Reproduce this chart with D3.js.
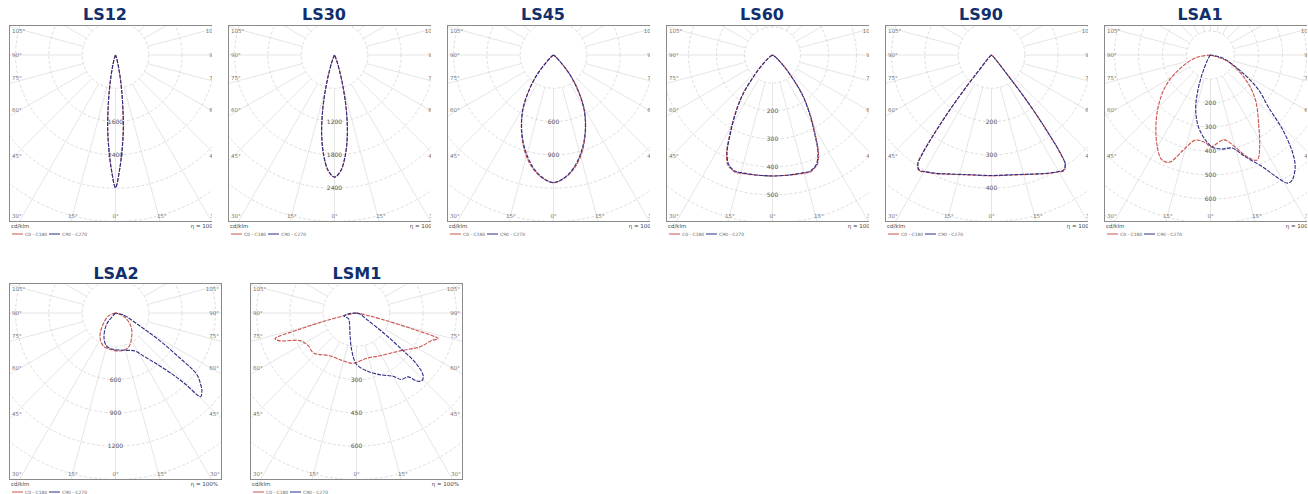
<!DOCTYPE html>
<html><head><meta charset="utf-8">
<script src="https://cdn.jsdelivr.net/npm/d3@7"></script>
<style>body{margin:0;background:#fff;} svg{display:block}</style>
</head><body>
<svg id="c" width="1308" height="494"></svg>
<script>
// ---------------- DATA ----------------
const titles = ["LS12","LS30","LS45","LS60","LS90","LSA1","LSA2","LSM1"];
const sideAngleLabels = ["105°","90°","75°","60°","45°"];
const sideAngles = [105,90,75,60,45];
const bottomAngleLabels = ["30°","15°","0°","15°","30°"];
const bottomAngles = [-30,-15,0,15,30];
const ringStep = [800,600,300,100,100,100,300,150];          // cd/klm per ring
const ringLabelRings = [[2,3],[2,3,4],[2,3],[2,3,4,5],[2,3,4],[2,3,4,5,6],[2,3,4],[2,3,4]];
const unitLabel = "cd/klm";
const etaLabel = "η = 100%";
const legendLabels = ["C0 - C180","C90 - C270"];

// gamma angles (deg, 0 = nadir, + = right) and intensities (cd/klm)
const ls12_gamma = [-30,-20,-15,-12,-10,-8,-6,-4,-2,0,2,4,6,8,10,12,15,20,30];
const ls12_c0  = [0,70,240,530,840,1250,1780,2260,2760,3190,2760,2260,1780,1250,840,530,240,70,0];
const ls12_c90 = [0,60,230,520,850,1270,1800,2280,2770,3190,2770,2280,1800,1270,850,520,230,60,0];

const ls30_gamma = [-40,-30,-25,-21,-18,-15,-12,-9,-6,-3,0,3,6,9,12,15,18,21,25,30,40];
const ls30_c0  = [0,0,35,125,290,600,1040,1480,1840,2100,2200,2100,1840,1480,1040,600,290,125,35,0,0];
const ls30_c90 = [0,0,30,120,280,590,1030,1470,1830,2090,2200,2090,1830,1470,1030,590,280,120,30,0,0];

const ls45_gamma = [-65,-60,-55,-50,-45,-40,-35,-30,-25,-20,-15,-10,-5,0,5,10,15,20,25,30,35,40,45,50,55,60,65];
const ls45_c0  = [0,0,15,35,90,235,385,550,685,820,945,1045,1115,1150,1115,1045,945,820,685,550,385,235,90,35,15,0,0];
const ls45_c90 = [0,0,12,30,85,225,375,540,680,810,930,1035,1110,1150,1110,1035,930,810,680,540,375,225,85,30,12,0,0];

const ls60_gamma = [-70,-60,-50,-45,-42,-37,-32,-28,-25,-22,-20,-18,-15,-10,-5,0,5,10,15,18,20,22,25,28,32,37,42,45,50,60,70];
const ls60_c0  = [0,7,29,64,96,179,257,328,389,425,432,439,437,434,432,432,432,434,437,439,432,425,389,328,257,179,96,64,29,7,0];
const ls60_c90 = [0,6,27,60,92,175,252,322,384,420,430,436,435,433,432,432,432,433,435,436,430,420,384,322,252,175,92,60,27,6,0];

const ls90_gamma = [-60,-50,-42,-39,-38,-37,-36,-35,-34,-32,-30,-25,-20,-15,-10,0,10,15,20,25,30,32,34,35,36,37,38,39,42,50,60];
const ls90_c0  = [0,6,24,75,150,225,297,366,398,410,405,393,381,372,366,363,366,372,381,393,405,410,398,366,297,225,150,75,24,6,0];
const ls90_c90 = [0,5,22,72,146,220,292,360,395,408,404,392,380,371,365,362,365,371,380,392,404,408,395,360,292,220,146,72,22,5,0];

const lsa1_gamma_c0 = [-90,-79,-65,-55,-45,-37,-30,-25,-21,-16,-10,-3,0,9,15,20,24,28,34,45,55,69,90];
const lsa1_c0       = [0,64,147,230,309,378,443,481,479,413,360,367,383,358,397,453,479,436,360,265,179,80,0];
const lsa1_gamma_c90 = [-60,-40,-24,-19,-15,-9.5,-3.4,1,7,13,19,25,28,31,33,37,40,44,48,54,61,76,90];
const lsa1_c90       = [0,8,82,168,238,304,355,383,395,398,449,515,569,623,623,586,533,433,325,248,153,52,0];

const lsa2_gamma_c0 = [-90,-67,-43,-32,-20,-9,7,20,33,50,69,90];
const lsa2_c0       = [0,70,182,263,317,330,345,333,266,180,76,0];
const lsa2_gamma_c90 = [-60,-38,-25,-15,-3.5,12,27,33,39,43,44.5,45.5,48,50,53,55,58,62,76,90];
const lsa2_c90       = [0,129,245,308,328,343,384,461,592,759,900,1076,1047,1002,915,707,473,249,72,0];

const lsm1_gamma_c0 = [-90,-80,-76,-74,-72.5,-70,-64,-56,-47,-32,-15,-4,13,29,49,62,70,72.5,74,76,80,90];
const lsm1_c0       = [0,22,135,270,385,367,284,263,264,227,224,227,209,220,260,324,361,386,270,120,22,0];
const lsm1_gamma_c90 = [-90,-85,-76,-57,-35,-17,-7,0,10,21,30,34,39,41.5,44,46.7,49.6,51.4,53.7,58,74,90];
const lsm1_c90       = [0,37,58,44,55,100,172,231,265,298,329,361,370,409,424,413,356,250,150,54,16,0];

const curves = [
  [[ls12_gamma, ls12_c0],[ls12_gamma, ls12_c90]],
  [[ls30_gamma, ls30_c0],[ls30_gamma, ls30_c90]],
  [[ls45_gamma, ls45_c0],[ls45_gamma, ls45_c90]],
  [[ls60_gamma, ls60_c0],[ls60_gamma, ls60_c90]],
  [[ls90_gamma, ls90_c0],[ls90_gamma, ls90_c90]],
  [[lsa1_gamma_c0, lsa1_c0],[lsa1_gamma_c90, lsa1_c90]],
  [[lsa2_gamma_c0, lsa2_c0],[lsa2_gamma_c90, lsa2_c90]],
  [[lsm1_gamma_c0, lsm1_c0],[lsm1_gamma_c90, lsm1_c90]]
];

// ---------------- LAYOUT / STYLE ----------------
const ringPx = [33.3,33.3,33.3,28,33.3,24,33.3,33.3];
const boxW = 213, boxH = 196, poleOff = 30;
const colC0 = "#c9524c", colC90 = "#2c2c86", titleCol = "#102f6c";
const smallFont = "DejaVu Sans";

const svg = d3.select("#c");
const defs = svg.append("defs");

titles.forEach((t, i) => {
  const row = i < 6 ? 0 : 1;
  const bx = row === 0 ? 9 + 219 * i : 9 + 241 * (i - 6);
  const by = row === 0 ? 25 : 283;
  const visW = row === 0 ? 203 : 214;
  const cx = bx + boxW / 2, cy = by + poleOff;
  const step = ringPx[i];

  defs.append("clipPath").attr("id", "pc" + i)
    .append("rect").attr("x", bx - 1).attr("y", by - 1).attr("width", visW + 1).attr("height", boxH + 40);
  defs.append("clipPath").attr("id", "bc" + i)
    .append("rect").attr("x", bx).attr("y", by).attr("width", boxW).attr("height", boxH);

  // title
  svg.append("text").attr("x", row === 0 ? bx + 96 : bx + 107).attr("y", row === 0 ? 20 : 279)
    .attr("text-anchor", "middle").attr("font-family", "DejaVu Sans").attr("font-weight", "bold")
    .attr("font-size", 16).attr("fill", titleCol).text(t);

  const panel = svg.append("g").attr("clip-path", `url(#pc${i})`);
  const inner = panel.append("g").attr("clip-path", `url(#bc${i})`);

  const nRings = 9;
  const r = d3.scaleLinear().domain([0, ringStep[i]]).range([0, step]);

  const angs = d3.range(0, 360, 15);
  inner.selectAll("line.rad").data(angs).join("line")
    .attr("x1", a => cx + step * Math.sin(a * Math.PI / 180))
    .attr("y1", a => cy + step * Math.cos(a * Math.PI / 180))
    .attr("x2", a => cx + 400 * Math.sin(a * Math.PI / 180))
    .attr("y2", a => cy + 400 * Math.cos(a * Math.PI / 180))
    .attr("stroke", "#dedede").attr("stroke-width", 0.8);
  inner.selectAll("circle.ring").data(d3.range(1, nRings + 1)).join("circle")
    .attr("cx", cx).attr("cy", cy).attr("r", k => r(k * ringStep[i]))
    .attr("fill", "none").attr("stroke", "#d4d4d4").attr("stroke-width", 0.8)
    .attr("stroke-dasharray", "3,2");

  const line = d3.lineRadial()
    .angle(d => Math.PI - d[0] * Math.PI / 180)
    .radius(d => r(d[1]))
    .curve(d3.curveCatmullRom.alpha(0.5));
  const g = inner.append("g").attr("transform", `translate(${cx},${cy})`);
  curves[i].forEach((c, j) => {
    const pts = c[0].map((a, k) => [a, c[1][k]]);
    g.append("path").attr("d", line(pts)).attr("fill", "none")
      .attr("stroke", j === 0 ? colC0 : colC90).attr("stroke-width", 1.1)
      .attr("stroke-dasharray", "4,1.2");
  });

  ringLabelRings[i].forEach(k => {
    inner.append("text").attr("x", cx).attr("y", cy + r(k * ringStep[i]) + 2)
      .attr("text-anchor", "middle").attr("font-family", smallFont).attr("font-size", 6)
      .attr("fill", "#555").text(k * ringStep[i]);
  });

  sideAngles.forEach((a, k) => {
    const dxEdge = boxW / 2;
    let yy = cy + dxEdge / Math.tan(a * Math.PI / 180) - 4;
    if (a === 90) yy = cy + 2;
    yy = Math.max(by + 8, yy);
    inner.append("text").attr("x", bx + 3).attr("y", yy).attr("font-family", smallFont)
      .attr("font-size", 5.5).attr("fill", "#777").text(sideAngleLabels[k]);
    inner.append("text").attr("x", bx + boxW - 3).attr("y", yy).attr("text-anchor", "end")
      .attr("font-family", smallFont).attr("font-size", 5.5).attr("fill", "#777").text(sideAngleLabels[k]);
  });
  bottomAngles.forEach((a, k) => {
    let xx = cx + (by + boxH - cy) * Math.tan(a * Math.PI / 180) - 3;
    if (a === -30) xx = bx + 3;
    if (a === 30) xx = bx + boxW - 12;
    inner.append("text").attr("x", xx).attr("y", by + boxH - 3).attr("font-family", smallFont)
      .attr("font-size", 5.5).attr("fill", "#777").text(bottomAngleLabels[k]);
  });

  panel.append("rect").attr("x", bx + 0.5).attr("y", by + 0.5).attr("width", boxW - 1).attr("height", boxH)
    .attr("fill", "none").attr("stroke", "#8a8a8a").attr("stroke-width", 1);

  // footer
  panel.append("text").attr("x", bx + 2).attr("y", by + boxH + 7).attr("font-family", smallFont)
    .attr("font-size", 5.5).attr("fill", "#444").text(unitLabel);
  panel.append("text").attr("x", bx + boxW - 4).attr("y", by + boxH + 7).attr("text-anchor", "end")
    .attr("font-family", smallFont).attr("font-size", 5.5).attr("fill", "#444").text(etaLabel);
  const ly = by + boxH + 13;
  [[bx + 3, colC0], [bx + 40, colC90]].forEach((p, j) => {
    panel.append("line").attr("x1", p[0]).attr("x2", p[0] + 11).attr("y1", ly).attr("y2", ly)
      .attr("stroke", p[1]).attr("stroke-width", 1);
    panel.append("text").attr("x", p[0] + 13).attr("y", ly + 1.8).attr("font-family", smallFont)
      .attr("font-size", 4.5).attr("fill", "#666").text(legendLabels[j]);
  });
});
</script>
</body></html>
